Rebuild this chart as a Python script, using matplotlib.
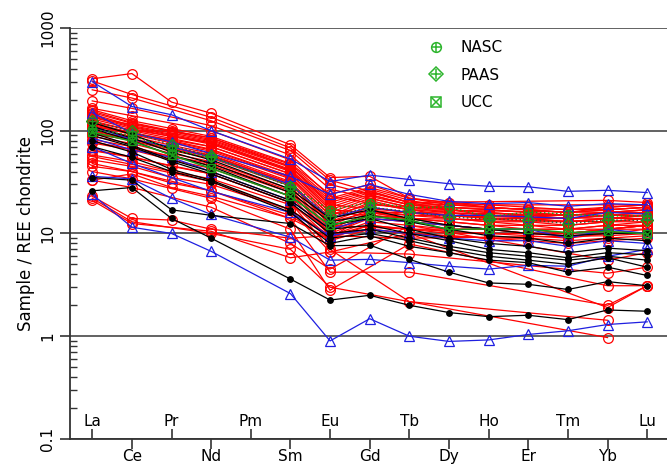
import numpy as np
import matplotlib
matplotlib.use('Agg')
import matplotlib.pyplot as plt
from matplotlib.lines import Line2D

nan = np.nan

# rare earth elements along the x axis (Pm has no data)
elements = ['La', 'Ce', 'Pr', 'Nd', 'Pm', 'Sm', 'Eu', 'Gd', 'Tb', 'Dy', 'Ho', 'Er', 'Tm', 'Yb', 'Lu']
measured = ['La', 'Ce', 'Pr', 'Nd', 'Sm', 'Eu', 'Gd', 'Tb', 'Dy', 'Ho', 'Er', 'Tm', 'Yb', 'Lu']

# chondrite-normalised samples, columns follow `measured`
red_full = [
    [320, 360, 190, 148, 73, 35, 36, 22, 20, 18, 17, 16, 18, 19],
    [160, 125, 105, 88, 48, 24, 30, 22, 19, 18, 17, 16, 17, 18],
    [155, 120, 100, 85, 47, 22, 28, 22, 20, 19, 18, 17, 18, 19],
    [150, 118, 98, 82, 45, 21, 27, 21, 18, 17, 16, 15, 16, 17],
    [145, 112, 95, 80, 44, 20, 26, 20, 19, 18, 17, 16, 17, 18],
    [140, 110, 92, 78, 42, 19, 25, 20, 17, 16, 15, 15, 16, 16],
    [135, 108, 90, 76, 41, 18, 24, 19, 18, 17, 16, 15, 16, 17],
    [130, 105, 88, 74, 40, 17, 23, 19, 17, 15, 15, 14, 15, 16],
    [125, 100, 84, 70, 38, 16, 22, 18, 16, 15, 14, 14, 15, 15],
    [118, 96, 80, 66, 36, 15, 21, 17, 16, 14, 14, 13, 14, 15],
    [115, 94, 78, 65, 35, 15, 19, 18, 17, 16, 15, 14, 15, 16],
    [112, 92, 76, 63, 34, 14, 20, 17, 15, 14, 13, 13, 14, 14],
    [106, 88, 72, 60, 32, 13, 18, 16, 14, 13, 13, 12, 13, 14],
    [100, 84, 68, 57, 31, 12, 17, 15, 14, 13, 12, 12, 13, 13],
    [98, 82, 66, 56, 30, 13, 16, 16, 15, 14, 14, 13, 14, 15],
    [95, 80, 64, 54, 29, 11, 16, 14, 13, 12, 12, 11, 12, 13],
    [88, 75, 60, 50, 27, 10.5, 15, 14, 13, 12, 11, 11, 12, 12],
    [82, 70, 56, 46, 25, 10, 14, 13, 12, 11, 11, 10, 11, 12],
    [76, 65, 52, 43, 23, 9.5, 13, 12, 11, 11, 10, 10, 11, 11],
    [65, 56, 45, 38, 20, 9, 12, 11, 10.5, 10, 10, 9.5, 10, 11],
    [58, 50, 40, 34, 19, 11, 14, 13, 12, 11, 11, 10, 11, 12],
    [52, 45, 35, 30, 17, 9.5, 12, 11, 10, 10, 9.5, 9, 10, 10],
    [45, 40, 31, 26, 15, 8.5, 11, 10, 9.5, 9, 9, 8.5, 9, 9.5],
    [33, 38, 28, 23, 14, 9, 16, 14, 12, 11, 10, 10, 11, 12],
    [23, 14, 13.5, 11, 9, 9.5, 11, 10, 9.5, 9, 8.5, 8, 8.5, 9],
]

# samples with only La, Ce, Nd, Sm, Eu, Tb, Yb, Lu
red_partial = [
    [305, 225, nan, 135, 68, 33, nan, 20, nan, nan, nan, nan, 21, 20],
    [250, 208, nan, 125, 64, 30, nan, 19, nan, nan, nan, nan, 19, 19],
    [195, 165, nan, 112, 58, 27, nan, 18, nan, nan, nan, nan, 17, 18],
    [165, 140, nan, 100, 52, 23, nan, 17, nan, nan, nan, nan, 16, 17],
    [135, 115, nan, 85, 45, 19, nan, 16, nan, nan, nan, nan, 15, 15],
    [120, 102, nan, 76, 41, 17, nan, 15, nan, nan, nan, nan, 14, 15],
    [110, 95, nan, 70, 38, 16, nan, 14, nan, nan, nan, nan, 13, 14],
    [92, 82, nan, 58, 31, 12, nan, 11, nan, nan, nan, nan, 11, 12],
    [78, 66, nan, 48, 26, 9.5, nan, 9.0, nan, nan, nan, nan, 9.5, 10],
    [64, 55, nan, 38, 20, 7.0, nan, 2.17, nan, nan, nan, nan, 0.97, nan],
    [56, 47, nan, 32, 17, 6.6, nan, 6.3, nan, nan, nan, nan, 4.1, 4.7],
    [48, 40, nan, 26, 14, 4.2, nan, 4.2, nan, nan, nan, nan, 2.0, 3.1],
    [40, 34, nan, 22, 11, 2.8, nan, 7.9, nan, nan, nan, nan, 3.1, 3.1],
    [33, 28, nan, 18, 8, 4.5, nan, 12, nan, nan, nan, nan, 5.5, 6.5],
    [22, 13, nan, 10, 7, 3.0, nan, 2.17, nan, nan, nan, nan, 1.43, nan],
    [21, 12.5, nan, 10.5, 5.8, 6.6, nan, 10, nan, nan, nan, nan, 1.9, 3.1],
]

blue_samples = [
    [300, 172, 143, 100, 53, 32, 37, 33.5, 30.5, 28.8, 28.5, 25.7, 26.3, 25],
    [150, 95, 78, 60, 36, 24, 30, 24, 20.5, 19.5, 20, 18.4, 19.5, 19],
    [110, 82, 70, 55, 30, 14, 18, 16, 15, 15, 14.5, 14, 16, 15.5],
    [85, 65, 55, 40, 21, 11, 14, 13, 12, 11, 11, 9, 11, 10],
    [70, 48, 35, 25.7, 16, 9.5, 11, 10, 9, 8.5, 8.5, 7.5, 8.5, 8],
    [36, 34, 22, 15.3, 9.2, 5.5, 5.6, 5.2, 4.8, 4.5, 4.9, 4.8, 6.0, 7.0],
    [24, 11.5, 10, 6.7, 2.6, 0.9, 1.48, 1.0, 0.89, 0.92, 1.04, 1.13, 1.3, 1.38],
]

black_samples = [
    [120, 92, 66, 52, 27, 14, 17, 14, 12, 11, 10, 9.5, 10, 10],
    [110, 85, 62, 48, 25, 13, 15, 13, 11, 9.5, 9, 8, 9, 8.5],
    [105, 80, 58, 45, 23, 12, 14, 11, 9, 8, 7.5, 6.5, 7.2, 6.8],
    [95, 72, 52, 40, 21, 11, 12, 10, 8.5, 7, 6.5, 5.8, 6.5, 6.2],
    [90, 70, 50, 38, 20, 10, 11, 9, 7.5, 6.5, 6, 5.5, 6, 5.5],
    [80, 62, 42, 33, 17, 9, 10, 8.5, 7, 6, 5.5, 5, 5.8, 4.7],
    [70, 55, 40, 32, 16, 8, 9.5, 7.5, 6.5, 5.5, 5.2, 4.2, 4.7, 3.9],
    [35, 33, 17, 15, 12.5, 7.6, 7.7, 5.6, 4.2, 3.3, 3.2, 2.85, 3.4, 3.1],
    [26, 28, 14, 9, 3.6, 2.25, 2.5, 2.0, 1.7, 1.55, 1.6, 1.45, 1.8, 1.75],
]

# reference sediments / crust
nasc = [103, 90, 65, 55, 29, 16.9, 20, 17.9, 18, 14.5, 16.2, 15.4, 14.8, 14.9]
paas = [123, 98.5, 72.4, 56.5, 28.5, 14.7, 18, 16.3, 14.5, 13.8, 13.6, 12.5, 13.5, 13.4]
ucc = [97, 79, 58, 43, 23, 12, 14.7, 13.5, 10.9, 11.1, 11, 10.2, 10.5, 9.9]

pos = {el: i + 1 for i, el in enumerate(elements)}
xs = np.array([pos[el] for el in measured])

fig = plt.figure(figsize=(6.67, 4.66), dpi=100)
ax = fig.add_axes([0.105, 0.058, 0.895, 0.882])


def draw(samples, color, marker, ms, filled, z):
    for row in samples:
        y = np.array(row, dtype=float)
        ok = ~np.isnan(y)
        ax.plot(xs[ok], y[ok], color=color, lw=0.9, marker=marker, ms=ms,
                mfc=color if filled else 'none', mec=color, mew=0.9, zorder=z)


draw(red_full + red_partial, '#ff0000', 'o', 7, False, 3)
draw(blue_samples, '#1f1fe0', '^', 7.5, False, 4)
draw(black_samples, '#000000', 'o', 4, True, 5)

green = '#1a9a1a'
refs = [
    (nasc, 'NASC', 'o', '+', ':', green),
    (paas, 'PAAS', 'D', '+', ':', '#335533'),
    (ucc, 'UCC', 's', 'x', '-', green),
]
handles = []
for vals, name, m1, m2, ls, lc in refs:
    ax.plot(xs, vals, color=lc, lw=1.1, ls=ls, zorder=6)
    ax.plot(xs, vals, ls='none', marker=m1, ms=6, mfc='none', mec=green, mew=1.0, zorder=7)
    ax.plot(xs, vals, ls='none', marker=m2, ms=6, mec=green, mew=1.0, zorder=7)
    h1 = Line2D([], [], ls='none', marker=m1, ms=7, mfc='none', mec='#2db52d', mew=1.1)
    h2 = Line2D([], [], ls='none', marker=m2, ms=7, mec='#2db52d', mew=1.1)
    handles.append((h1, h2))

ax.legend(handles, [r[1] for r in refs], loc='upper left', bbox_to_anchor=(0.577, 1.003),
          frameon=False, fontsize=11, labelspacing=0.8, handlelength=1.0, handletextpad=1.1)

# axes
ax.set_yscale('log')
ax.set_ylim(0.1, 1000)
ax.set_xlim(0.44, 15.5)
ax.set_yticks([0.1, 1, 10, 100, 1000])
ax.set_yticklabels(['0.1', '1', '10', '100', '1000'], rotation=90, va='center')
ax.tick_params(axis='y', which='major', direction='out', length=7, width=1.2, labelsize=11, color='#333333')
ax.tick_params(axis='y', which='minor', direction='in', length=5, width=1.0, color='#333333')
ax.set_ylabel('Sample / REE chondrite', fontsize=12)

# even elements below the axis, odd ones inside it
ax.set_xticks([pos[e] for e in elements[1::2]], elements[1::2])
ax.set_xticks([pos[e] for e in elements[0::2]], elements[0::2], minor=True)
ax.tick_params(axis='x', which='major', direction='out', length=7, width=1.2, labelsize=11, pad=0.5, color='#333333')
ax.tick_params(axis='x', which='minor', direction='in', length=7, width=1.2, labelsize=11, pad=-18, color='#333333')

ax.grid(axis='y', which='major', color='#555555', lw=1.3)
ax.set_axisbelow(True)
for s in ['top', 'right']:
    ax.spines[s].set_visible(False)
for s in ['left', 'bottom']:
    ax.spines[s].set_color('#333333')
    ax.spines[s].set_linewidth(1.3)

plt.savefig('out.png', dpi=100)
